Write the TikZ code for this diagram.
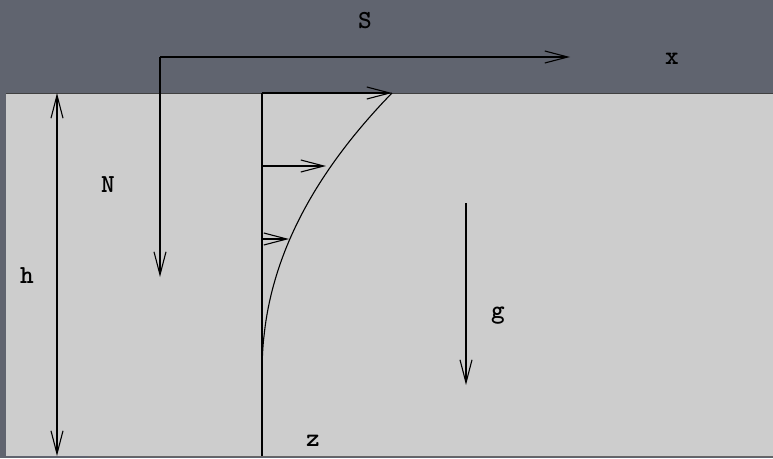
\documentclass[tikz,border=0pt]{standalone}
\usetikzlibrary{arrows.meta}
\definecolor{bgdark}{HTML}{60646F}
\definecolor{panel}{HTML}{CDCDCD}
\begin{document}
\begin{tikzpicture}[x=1pt,y=-1pt,
  lbl/.style={font=\fontsize{26}{28}\ttfamily\bfseries,inner sep=0pt},
  ln/.style={line width=1.1pt,black},
  arr/.style={ln,-{Straight Barb[length=23pt,width=12pt,line width=1.1pt]}},
  darr/.style={ln,{Straight Barb[length=23pt,width=12pt,line width=1.1pt]}-{Straight Barb[length=23pt,width=12pt,line width=1.1pt]}}]
\useasboundingbox (0,0) rectangle (773,458);
\fill[bgdark] (0,0) rectangle (773,458);
\fill[panel] (6,93) rectangle (773,456);
\draw[black!75,line width=1pt] (6,93) -- (773,93);
\draw[black!60,line width=0.8pt] (88,456.5) -- (773,456.5);
% coordinates
\coordinate (O) at (160,57);
\coordinate (Xend) at (570,57);
\coordinate (Yend) at (160,277);
\coordinate (Htop) at (57,93);
\coordinate (Hbot) at (57,456);
\coordinate (Ptop) at (262,93);
\coordinate (Pbot) at (262,456);
\coordinate (P1) at (262,166);
\coordinate (P2) at (262,239);
\coordinate (U0) at (392,93);
\coordinate (U1) at (326,166);
\coordinate (U2) at (289,239);
\coordinate (Gtop) at (466,203);
\coordinate (Gbot) at (466,385);
% axes
\draw[arr] (O) -- (Xend);
\draw[arr] (O) -- (Yend);
% height
\draw[darr] (Htop) -- (Hbot);
% profile
\draw[ln] (Ptop) -- (Pbot);
\draw[ln] plot[domain=0:281,samples=90,smooth] ({262+130*pow(\x/281,2.1)},{374-\x});
\draw[arr] (Ptop) -- (U0);
\draw[arr] (P1) -- (U1);
\draw[arr] (P2) -- (U2);
% gravity
\draw[arr] (Gtop) -- (Gbot);
% labels
\node[lbl] (S) at (365,21) {S};
\node[lbl] (x) at (672,59) {x};
\node[lbl] (N) at (108,185) {N};
\node[lbl] (h) at (27,276) {h};
\node[lbl] (g) at (498,316) {g};
\node[lbl] (z) at (313,441) {z};
\end{tikzpicture}
\end{document}
